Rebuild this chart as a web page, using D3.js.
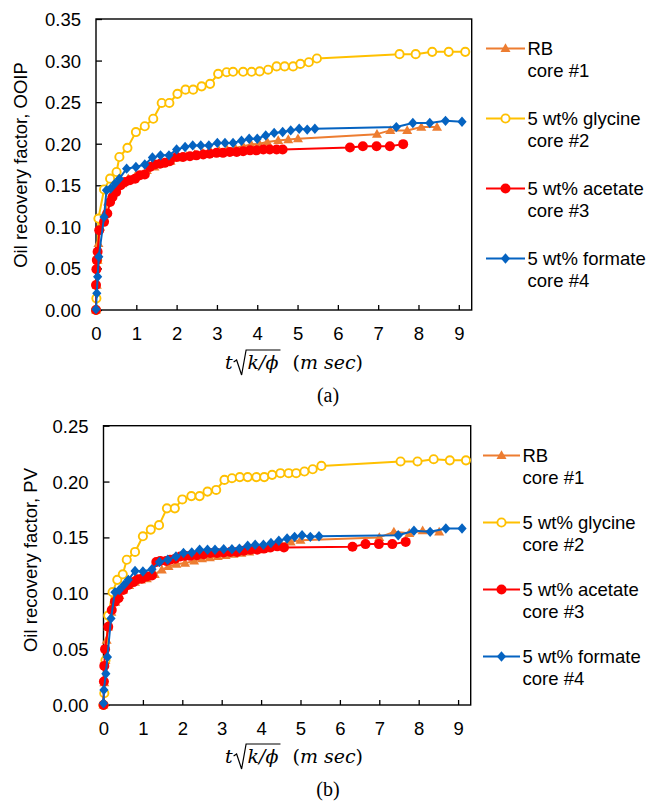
<!DOCTYPE html>
<html>
<head>
<meta charset="utf-8">
<script src="https://cdn.jsdelivr.net/npm/d3@7"></script>
<style>
  html, body { margin: 0; padding: 0; background: #fff; }
  svg { display: block; }
</style>
</head>
<body>
<svg id="fig" width="654" height="801" font-family="Liberation Sans, Arial, sans-serif"></svg>
<script>
// ---- axis ticks ----
const xTicks = [0, 1, 2, 3, 4, 5, 6, 7, 8, 9];
const ooipTicks = [0, 0.05, 0.10, 0.15, 0.20, 0.25, 0.30, 0.35];
const pvTicks = [0, 0.05, 0.10, 0.15, 0.20, 0.25];

// ---- legend ----
const seriesNames = ["RB", "5 wt% glycine", "5 wt% acetate", "5 wt% formate"];
const coreNames = ["core #1", "core #2", "core #3", "core #4"];

// ---- (a) recovery factor, OOIP : [t*sqrt(k/phi), RF] ----
const ooipRB = [[0,0],[0.02,0.03],[0.04,0.06],[0.06,0.08],[0.1,0.1],[0.2,0.115],[0.3,0.13],[0.4,0.14],[0.5,0.146],[0.65,0.152],[0.8,0.158],[1.0,0.163],[1.26,0.168],[1.45,0.172],[1.65,0.176],[1.85,0.179],[2.05,0.183],[2.25,0.185],[2.45,0.187],[2.65,0.189],[2.85,0.19],[3.05,0.192],[3.25,0.193],[3.45,0.195],[3.65,0.197],[3.85,0.199],[4.05,0.2],[4.25,0.202],[4.52,0.204],[4.77,0.205],[5.01,0.206],[6.97,0.2115],[7.3,0.216],[7.72,0.216],[8.07,0.22],[8.46,0.22]];
const ooipGlycine = [[0,0],[0.01,0.014],[0.03,0.06],[0.06,0.11],[0.2,0.145],[0.35,0.158],[0.51,0.166],[0.58,0.184],[0.78,0.195],[0.99,0.214],[1.21,0.221],[1.42,0.23],[1.63,0.249],[1.82,0.249],[2.02,0.26],[2.22,0.265],[2.41,0.265],[2.62,0.269],[2.83,0.272],[3.03,0.284],[3.24,0.286],[3.4,0.2865],[3.65,0.2865],[3.86,0.2865],[4.06,0.287],[4.27,0.289],[4.48,0.293],[4.68,0.293],[4.89,0.293],[5.07,0.296],[5.28,0.298],[5.48,0.3025],[7.53,0.3077],[7.93,0.3077],[8.34,0.3105],[8.75,0.3105],[9.16,0.3105]];
const ooipAcetate = [[0,0],[0,0.03],[0.01,0.049],[0.02,0.06],[0.04,0.07],[0.08,0.096],[0.2,0.106],[0.28,0.116],[0.35,0.13],[0.41,0.136],[0.5,0.142],[0.61,0.15],[0.72,0.154],[0.84,0.156],[0.97,0.158],[1.09,0.162],[1.21,0.163],[1.34,0.172],[1.46,0.175],[1.59,0.176],[1.71,0.177],[1.83,0.179],[2.0,0.184],[2.16,0.184],[2.33,0.185],[2.49,0.186],[2.66,0.187],[2.82,0.188],[2.99,0.189],[3.15,0.189],[3.32,0.19],[3.49,0.19],[3.65,0.191],[3.82,0.192],[3.98,0.192],[4.15,0.193],[4.31,0.193],[4.48,0.193],[4.63,0.193],[6.3,0.1955],[6.62,0.197],[6.96,0.197],[7.29,0.197],[7.62,0.1995]];
const ooipFormate = [[0,0.001],[0.02,0.02],[0.04,0.04],[0.07,0.064],[0.2,0.112],[0.26,0.144],[0.36,0.146],[0.47,0.152],[0.58,0.158],[0.76,0.17],[0.99,0.172],[1.21,0.175],[1.4,0.1835],[1.6,0.186],[1.81,0.186],[2.0,0.193],[2.21,0.196],[2.4,0.198],[2.6,0.198],[2.8,0.198],[3.01,0.201],[3.2,0.201],[3.4,0.201],[3.61,0.2035],[3.8,0.206],[4.0,0.206],[4.21,0.21],[4.42,0.213],[4.63,0.214],[4.83,0.216],[5.04,0.218],[5.24,0.217],[5.43,0.218],[7.45,0.22],[7.86,0.225],[8.28,0.225],[8.67,0.2275],[9.08,0.2265]];

// ---- (b) recovery factor, PV ----
const pvRB = [[0,0],[0.02,0.02],[0.05,0.04],[0.08,0.058],[0.12,0.07],[0.2,0.083],[0.3,0.092],[0.4,0.098],[0.5,0.103],[0.65,0.107],[0.8,0.11],[0.95,0.112],[1.1,0.113],[1.3,0.117],[1.48,0.121],[1.65,0.124],[1.85,0.126],[2.07,0.127],[2.3,0.129],[2.5,0.131],[2.7,0.132],[2.9,0.133],[3.1,0.134],[3.3,0.135],[3.5,0.136],[3.7,0.137],[3.9,0.139],[4.1,0.14],[4.3,0.142],[4.5,0.144],[4.75,0.146],[5.0,0.1475],[7.0,0.15],[7.37,0.155],[7.76,0.1537],[8.1,0.156],[8.52,0.155]];
const pvGlycine = [[0,0],[0.02,0.0105],[0.05,0.04],[0.12,0.08],[0.23,0.101],[0.35,0.112],[0.49,0.117],[0.59,0.13],[0.8,0.137],[1.0,0.151],[1.2,0.157],[1.41,0.161],[1.61,0.176],[1.81,0.176],[2.0,0.184],[2.23,0.187],[2.44,0.187],[2.64,0.191],[2.86,0.1925],[3.07,0.2015],[3.26,0.203],[3.46,0.204],[3.66,0.204],[3.88,0.204],[4.08,0.204],[4.28,0.206],[4.49,0.2075],[4.7,0.2075],[4.89,0.2075],[5.1,0.209],[5.31,0.211],[5.53,0.214],[7.54,0.218],[7.97,0.218],[8.38,0.22],[8.79,0.219],[9.2,0.219]];
const pvAcetate = [[0,0],[0.01,0.021],[0.02,0.035],[0.04,0.05],[0.12,0.07],[0.21,0.085],[0.29,0.0925],[0.38,0.0955],[0.5,0.103],[0.63,0.1075],[0.76,0.11],[0.86,0.1125],[0.97,0.113],[1.1,0.115],[1.23,0.116],[1.34,0.128],[1.44,0.129],[1.59,0.129],[1.69,0.13],[1.82,0.131],[1.95,0.133],[2.07,0.1335],[2.2,0.1335],[2.37,0.134],[2.54,0.135],[2.71,0.136],[2.88,0.136],[3.05,0.1365],[3.22,0.137],[3.39,0.137],[3.56,0.138],[3.73,0.139],[3.9,0.139],[4.07,0.14],[4.24,0.141],[4.41,0.142],[4.58,0.141],[6.32,0.1417],[6.65,0.144],[6.99,0.144],[7.33,0.144],[7.67,0.146]];
const pvFormate = [[0,0.0015],[0.01,0.0135],[0.06,0.028],[0.1,0.043],[0.19,0.0775],[0.29,0.101],[0.4,0.103],[0.52,0.1075],[0.63,0.112],[0.8,0.12],[1.0,0.1195],[1.23,0.1215],[1.42,0.128],[1.63,0.13],[1.84,0.133],[2.03,0.136],[2.24,0.1365],[2.44,0.139],[2.64,0.139],[2.83,0.139],[3.05,0.1395],[3.26,0.1395],[3.45,0.14],[3.66,0.1425],[3.85,0.1435],[4.06,0.1435],[4.25,0.145],[4.45,0.147],[4.66,0.149],[4.85,0.1505],[5.04,0.152],[5.25,0.1505],[5.47,0.151],[7.48,0.152],[7.88,0.156],[8.29,0.155],[8.69,0.158],[9.1,0.158]];

// ---- series styles (drawing order = RB, glycine, acetate, formate) ----
const seriesColors = ["#ED7D31", "#FFC000", "#FF0000", "#0563C1"];
const seriesMarkers = ["triangle", "openCircle", "circle", "diamond"];

function markerPath(kind) {
  if (kind === "triangle") return "M0,-5.2L5,3.6L-5,3.6Z";
  if (kind === "diamond") return "M0,-5.2L4.6,0L0,5.2L-4.6,0Z";
  if (kind === "circle") return d3.symbol(d3.symbolCircle, Math.PI * 25)();
  return d3.symbol(d3.symbolCircle, Math.PI * 16.8)();
}
function styleMarker(sel, i) {
  const kind = seriesMarkers[i], col = seriesColors[i];
  sel.attr("d", markerPath(kind));
  if (kind === "openCircle") sel.attr("fill", "#fff").attr("stroke", col).attr("stroke-width", 1.9);
  else sel.attr("fill", col).attr("stroke", "none");
}

const panels = [
  { box: { l: 96, r: 471.7, t: 19, b: 310 }, yMax: 0.35, yTicks: ooipTicks,
    series: [ooipRB, ooipGlycine, ooipAcetate, ooipFormate],
    yTitle: "Oil recovery factor, OOIP", yTitleX: 27, yTitleY: 165,
    legend: { x1: 486, x2: 525, y0: 48.5, step: 70 },
    xTitleY: 369, tag: "(a)", tagY: 402 },
  { box: { l: 103.5, r: 470.7, t: 425.7, b: 705 }, yMax: 0.25, yTicks: pvTicks,
    series: [pvRB, pvGlycine, pvAcetate, pvFormate],
    yTitle: "Oil recovery factor, PV", yTitleX: 37, yTitleY: 560,
    legend: { x1: 483, x2: 520, y0: 455.5, step: 67 },
    xTitleY: 763, tag: "(b)", tagY: 796 }
];

const svg = d3.select("#fig");
svg.append("rect").attr("width", 654).attr("height", 801).attr("fill", "#fff");

panels.forEach(p => {
  const B = p.box;
  const x = d3.scaleLinear().domain([0, 9.32]).range([B.l, B.r]);
  const y = d3.scaleLinear().domain([0, p.yMax]).range([B.b, B.t]);
  const g = svg.append("g");

  // axes with inward ticks
  const xa = g.append("g").attr("transform", `translate(0,${B.b})`)
    .call(d3.axisBottom(x).tickValues(xTicks).tickSize(-5).tickPadding(17).tickFormat(d3.format("d")));
  const ya = g.append("g").attr("transform", `translate(${B.l},0)`)
    .call(d3.axisLeft(y).tickValues(p.yTicks).tickSize(-6).tickPadding(15).tickFormat(d3.format(".2f")));
  [xa, ya].forEach(a => {
    a.attr("font-family", null).attr("font-size", null);
    a.select(".domain").remove();
    a.selectAll(".tick line").attr("stroke", "#000").attr("stroke-width", 1.3);
    a.selectAll("text").attr("font-size", 18.5).attr("fill", "#000");
  });
  ya.selectAll("text").attr("dy", "0.35em");

  // plot frame
  g.append("rect").attr("x", B.l).attr("y", B.t).attr("width", B.r - B.l).attr("height", B.b - B.t)
    .attr("fill", "none").attr("stroke", "#000").attr("stroke-width", 1.4);

  // series
  const line = d3.line().x(d => x(d[0])).y(d => y(d[1]));
  p.series.forEach((data, i) => {
    const sg = g.append("g");
    sg.append("path").attr("d", line(data)).attr("fill", "none")
      .attr("stroke", seriesColors[i]).attr("stroke-width", 2).attr("stroke-linejoin", "round");
    sg.selectAll("path.m").data(data).enter().append("path").attr("class", "m")
      .attr("transform", d => `translate(${x(d[0])},${y(d[1])})`)
      .call(s => styleMarker(s, i));
  });

  // y title
  g.append("text").attr("transform", `translate(${p.yTitleX},${p.yTitleY}) rotate(-90)`)
    .attr("text-anchor", "middle").attr("font-size", 18.5).text(p.yTitle);

  // legend
  const L = p.legend;
  seriesNames.forEach((name, i) => {
    const ly = L.y0 + i * L.step;
    const lg = g.append("g");
    lg.append("line").attr("x1", L.x1).attr("x2", L.x2).attr("y1", ly).attr("y2", ly)
      .attr("stroke", seriesColors[i]).attr("stroke-width", 2);
    lg.append("path").attr("transform", `translate(${(L.x1 + L.x2) / 2},${ly})`).call(s => styleMarker(s, i));
    const t = lg.append("text").attr("x", L.x2 + 2.5).attr("y", ly + 6.5).attr("font-size", 18.5);
    t.append("tspan").text(name);
    t.append("tspan").attr("x", L.x2 + 2.5).attr("dy", 21.5).text(coreNames[i]);
  });

  // x title: t·sqrt(k/phi)  (m sec)
  const xt = g.append("g").attr("font-family", "DejaVu Serif, Liberation Serif, serif");
  const fs = 19;
  const tT = xt.append("text").attr("font-style", "italic")
    .attr("font-size", fs).attr("y", p.xTitleY).text("t");
  const tW = tT.node().getComputedTextLength();
  const radX = tW + 1;
  const kT = xt.append("text").attr("font-style", "italic")
    .attr("font-size", fs).attr("y", p.xTitleY).attr("x", radX + 14).text("k/\u03D5");
  const kW = kT.node().getComputedTextLength();
  const yb = p.xTitleY;
  xt.append("path")
    .attr("d", `M${radX},${yb - 7} L${radX + 3},${yb - 9} L${radX + 8},${yb + 6} L${radX + 12.5},${yb - 19} L${radX + 14 + kW + 2},${yb - 19}`)
    .attr("fill", "none").attr("stroke", "#000").attr("stroke-width", 1.2);
  const mT = xt.append("text").attr("font-style", "italic")
    .attr("font-size", fs).attr("y", p.xTitleY).attr("x", radX + 14 + kW + 14);
  mT.append("tspan").attr("font-style", "normal").text("(");
  mT.append("tspan").text("m sec");
  mT.append("tspan").attr("font-style", "normal").text(")");
  const totalW = radX + 14 + kW + 14 + mT.node().getComputedTextLength();
  xt.attr("transform", `translate(${294 - totalW / 2},0)`);

  // panel tag
  g.append("text").attr("x", 328).attr("y", p.tagY).attr("text-anchor", "middle")
    .attr("font-family", "Liberation Serif, Times New Roman, serif").attr("font-size", 20).text(p.tag);
});
</script>
</body>
</html>
